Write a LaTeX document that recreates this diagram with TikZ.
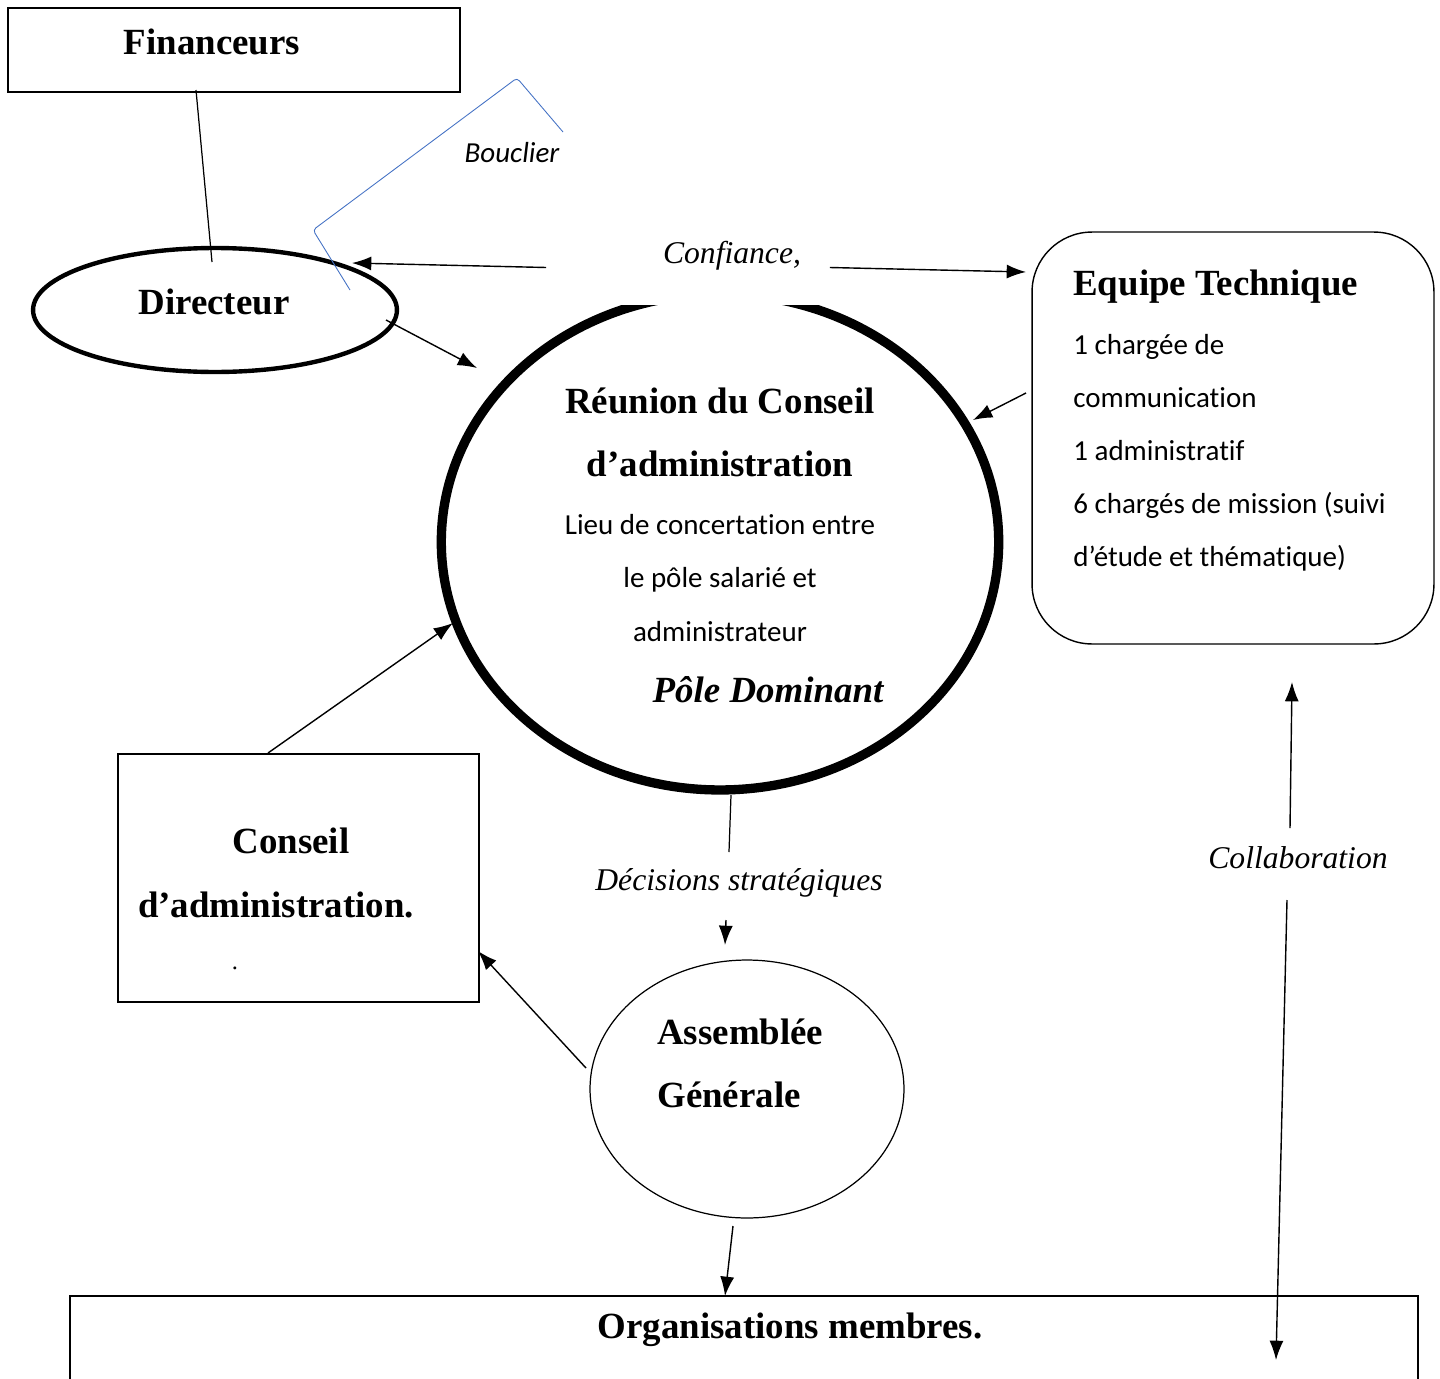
\documentclass[tikz,border=0pt]{standalone}
\usepackage{fontspec}
\setmainfont{Liberation Serif}
\setsansfont{Carlito}[Ligatures=NoCommon]
\usepackage{xcolor}
\usetikzlibrary{positioning,shapes,arrows.meta}

\definecolor{bouclierblue}{HTML}{4472C4}

\begin{document}
\begin{tikzpicture}[
            x=0.02cm, y=-0.02cm,
            titre/.style={inner sep=0pt, font=\fontsize{21}{36}\selectfont\bfseries},
            lien/.style={inner sep=0pt, font=\fontsize{18}{22}\selectfont\itshape},
            corps/.style={inner sep=0pt, font=\fontsize{16.5}{30.2}\selectfont\sffamily},
            fleche/.style={-{Latex[length=11pt,width=8pt]}, line width=0.8pt},
            trait/.style={-, line width=0.7pt}
        ]
            \useasboundingbox (0,0) rectangle (1440,1379);
            % Vertices
            \node[draw, line width=1pt, minimum width=9.04cm, minimum height=1.68cm] (fin) at (234,50) {};
            \node[titre] (fintxt) at (212,42) {Financeurs};
            \node[ellipse, draw, line width=2.5pt, minimum width=7.28cm, minimum height=2.48cm] (dir) at (215,310) {};
            \node[titre] (dirtxt) at (214,302) {Directeur};
            \node[ellipse, draw, line width=5.3pt, minimum width=11.15cm, minimum height=9.92cm] (reun) at (720,542) {};
            \node[fill=white, inner sep=0pt, minimum width=5.66cm, minimum height=1.5cm] (confbox) at (688,267.5) {};
            \node[lien] (conf) at (732,256) {Confiance,};
            \node[titre, align=center] (reuntxt) at (720,432) {Réunion du Conseil\\d’administration};
            \node[corps, align=center] (lieu) at (720,578) {Lieu de concertation entre\\le pôle salarié et\\administrateur};
            \node[inner sep=0pt, font=\fontsize{21}{25}\selectfont\bfseries\itshape] (pole) at (768,690) {Pôle Dominant};
            \node[draw, rounded corners=1.2cm, line width=0.8pt, minimum width=8.04cm, minimum height=8.24cm] (equipe) at (1233,438) {};
            \node[titre, anchor=west] (equipetxt) at (1073,287) {Equipe Technique};
            \node[corps, align=left, anchor=west] (membres) at (1073,453) {1 chargée de\\communication\\1 administratif\\6 chargés de mission (suivi\\d’étude et thématique)};
            \node[draw, line width=1pt, minimum width=7.22cm, minimum height=4.96cm] (ca) at (298.5,878) {};
            \node[titre] (catxt1) at (291,841) {Conseil};
            \node[titre] (catxt2) at (276,905) {d’administration.};
            \node[inner sep=0pt, font=\fontsize{14}{16}\selectfont] (cadot) at (235,968) {.};
            \node[lien] (dec) at (739,883) {Décisions stratégiques};
            \node[ellipse, draw, line width=0.7pt, minimum width=6.28cm, minimum height=5.16cm] (ag) at (747,1089) {};
            \node[titre, align=left, anchor=west] (agtxt) at (657,1063) {Assemblée\\Générale};
            \node[lien] (collab) at (1298,858) {Collaboration};
            \node[draw, line width=1pt, minimum width=26.96cm, minimum height=3cm] (org) at (744,1371) {};
            \node[titre] (orgtxt) at (790,1330) {Organisations membres.};
            \node[inner sep=0pt, font=\fontsize{16.5}{20}\selectfont\sffamily\itshape] (bouclier) at (512,153) {Bouclier};
            % Connector ends
            \coordinate (finOut) at (196,90);
            \coordinate (dirIn) at (212,262);
            \coordinate (dirTip) at (352,263);
            \coordinate (equipeTip) at (1026,272);
            \coordinate (dirOut) at (386,320);
            \coordinate (reunTip1) at (477,368);
            \coordinate (equipeOut) at (1026,393);
            \coordinate (reunTip2) at (973,420);
            \coordinate (reunOut) at (731,795);
            \coordinate (decIn) at (729,852);
            \coordinate (decOut) at (726,920);
            \coordinate (agTip) at (725,945);
            \coordinate (caOut) at (268,753);
            \coordinate (reunTip3) at (453,623);
            \coordinate (agOut) at (586,1068);
            \coordinate (caTip) at (478,951);
            \coordinate (agOut2) at (733,1226);
            \coordinate (orgTip) at (725,1296);
            \coordinate (collabUp) at (1290,828);
            \coordinate (equipeTip2) at (1292,682);
            \coordinate (collabDown) at (1287,900);
            \coordinate (orgTip2) at (1276,1360);
            % Edges
            \draw[trait] (finOut) -- (dirIn); % Financeurs - Directeur
            \draw[fleche] (confbox.west) -- (dirTip); % Confiance -> Directeur
            \draw[fleche] (confbox.east) -- (equipeTip); % Confiance -> Equipe
            \draw[fleche] (dirOut) -- (reunTip1); % Directeur -> Reunion
            \draw[fleche] (equipeOut) -- (reunTip2); % Equipe -> Reunion
            \draw[trait] (reunOut) -- (decIn); % Reunion - Decisions
            \draw[fleche] (decOut) -- (agTip); % Decisions -> AG
            \draw[fleche] (caOut) -- (reunTip3); % CA -> Reunion
            \draw[fleche] (agOut) -- (caTip); % AG -> CA
            \draw[fleche] (agOut2) -- (orgTip); % AG -> Organisations
            \draw[fleche] (collabUp) -- (equipeTip2); % Collaboration -> Equipe
            \draw[fleche] (collabDown) -- (orgTip2); % Collaboration -> Organisations
            % Bouclier
            \draw[bouclierblue, line width=0.5pt, rounded corners=2pt] (350,290) -- (313,230) -- (517,78) -- (563,132);
        \end{tikzpicture}
\end{document}
